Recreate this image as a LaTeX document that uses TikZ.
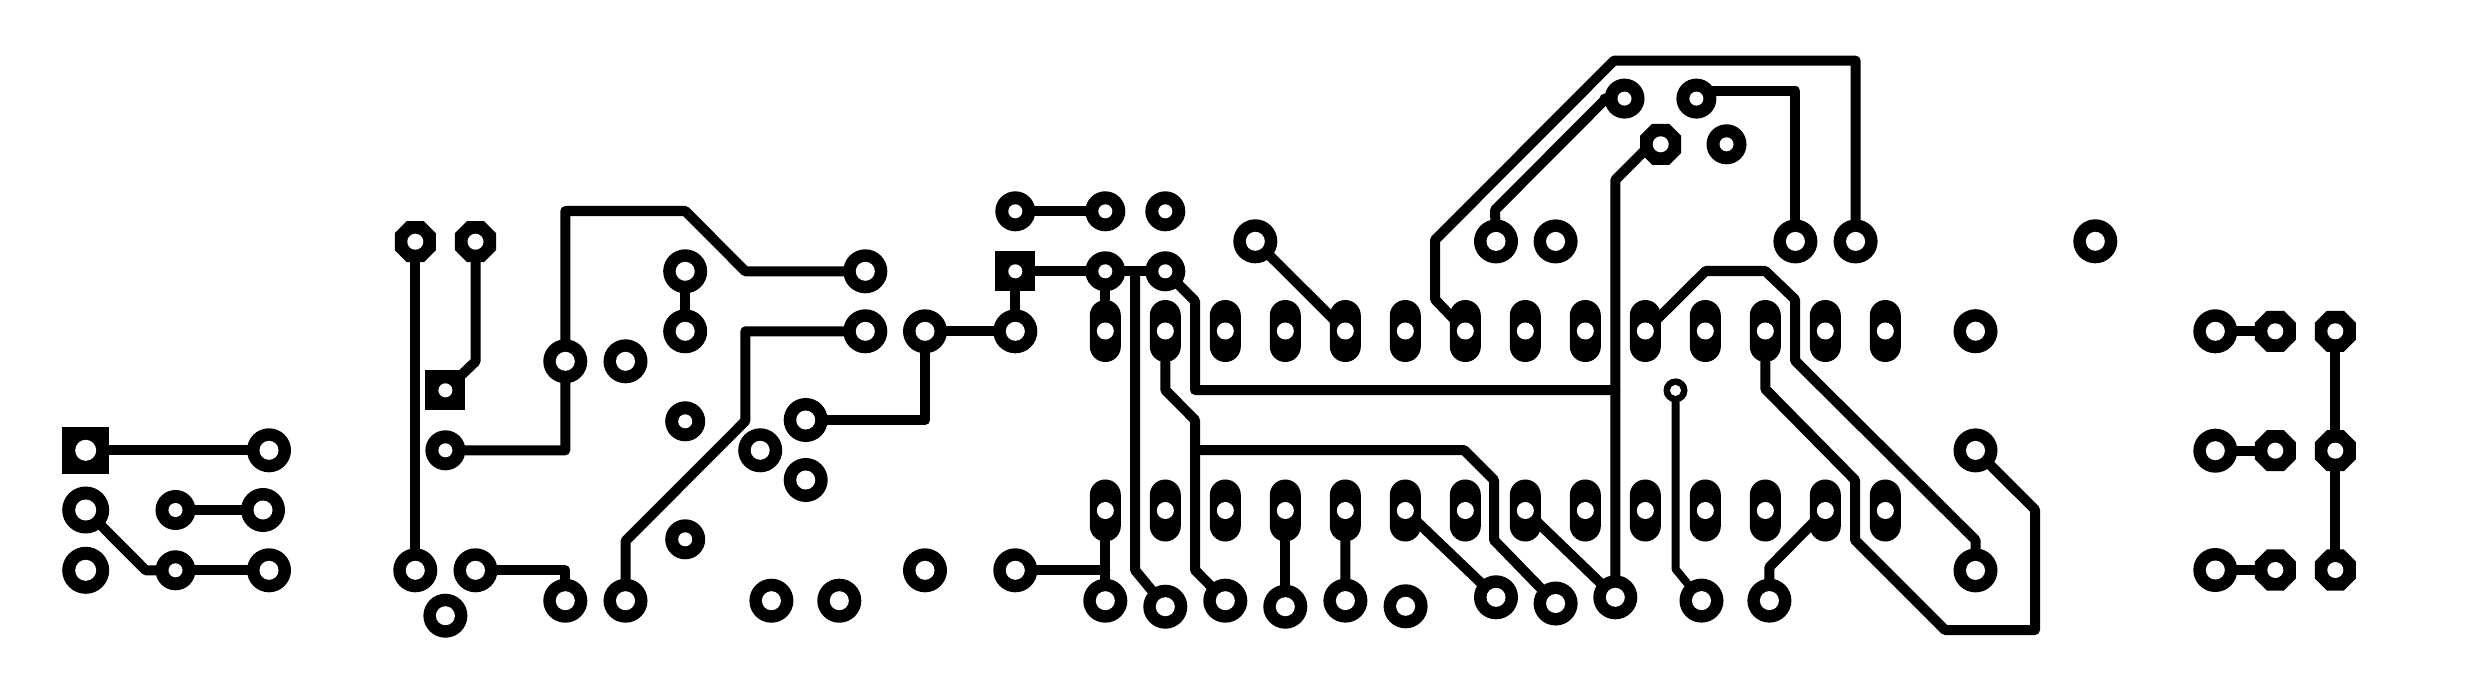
\documentclass[tikz,border=0pt]{standalone}
\usepackage{amsmath,amssymb}
\usetikzlibrary{shapes.geometric,backgrounds}

\tikzset{
  padhole/.style={path picture={\fill[white] (path picture bounding box.center) circle (#1);}},
  padbase/.style={fill=black,inner sep=0pt,outer sep=0pt},
  padbig/.style={padbase,circle,minimum size=.44cm,padhole=.095cm},
  padwide/.style={padbase,circle,minimum size=.47cm,padhole=.105cm},
  padsmall/.style={padbase,circle,minimum size=.40cm,padhole=.07cm},
  padsq/.style={padbase,rectangle,minimum size=.40cm,padhole=.07cm},
  padsqwide/.style={padbase,rectangle,minimum size=.47cm,padhole=.105cm},
  padoct/.style={padbase,regular polygon,regular polygon sides=8,minimum size=.444cm,padhole=.08cm},
  padoval/.style={padbase,rectangle,rounded corners=.155cm,minimum width=.31cm,minimum height=.62cm,padhole=.085cm},
  padvia/.style={padbase,circle,minimum size=.24cm,padhole=.055cm},
  track/.style={line width=.1cm,line join=round,line cap=round},
  trackthin/.style={line width=.08cm,line join=round,line cap=round}
}

\begin{document}
\begin{tikzpicture}[x=.01cm,y=-.01cm]
  \useasboundingbox (0,0) rectangle (2481,700);
  % Left connector block
  \node[padsqwide] (L1) at (85.7,450.3) {};
  \foreach \nm/\px/\py in {L2/85.7/510, L3/85.7/570.3}
    \node[padwide] (\nm) at (\px,\py) {};
  \foreach \nm/\px/\py in {L4/269/450.3, L5/263/510, L6/269/570.3}
    \node[padbig] (\nm) at (\px,\py) {};
  \foreach \nm/\px/\py in {L7/175.5/510, L8/175.5/570.3}
    \node[padsmall] (\nm) at (\px,\py) {};
  % Middle block, loose pads
  \node[padoct] (M1) at (415.3,241.7) {};
  \node[padoct] (M2) at (475.5,241.7) {};
  \node[padsq] (M3) at (445.4,390.3) {};
  \node[padsq] (M4) at (1015.3,271.3) {};
  \foreach \nm/\px/\py in {M5/445.4/450.3, M6/685.2/421.3, M7/685.2/539.3,
      M8/1015.3/211.3, M9/1105.3/211.3, M10/1165.3/211.3, M11/1105.3/271.3, M12/1165.3/271.3}
    \node[padsmall] (\nm) at (\px,\py) {};
  \foreach \nm/\px/\py in {B1/415.3/570.3, B2/475.5/570.3, B3/445.4/615.7, B4/565.3/361.3,
      B5/625.5/361.3, B6/685.2/271.3, B7/685.2/331.3, B8/760.2/450.3, B9/805.7/420,
      B10/805.7/480, B11/565.3/600.7, B12/625.5/600.7, B13/771.4/600.7, B14/839.3/600.7,
      B15/865.3/271.3, B16/865.3/331.3, B17/925/331.3, B18/1015.3/331.3, B19/925/570.3,
      B20/1015.3/570.3, B21/1105.3/600.7, B22/1165.3/606.7, B23/1225.3/600.7, B24/1285.3/606.7,
      B25/1255.3/241.3, B26/1345.4/600.6, B27/1405.6/606.3, B28/1496/597.3, B29/1555.6/603.5,
      B30/1615.3/597.3, B31/1701.5/600.6, B32/1769.4/600.6, B33/1975.5/570.4, B34/1975.5/450.4,
      B35/1975.5/331.2, B36/1496/241.4, B37/1555.6/241.4, B38/1795.4/241.4, B39/1855.6/241.4,
      B40/2095.3/241.3}
    \node[padbig] (\nm) at (\px,\py) {};
  % IC rows, 14 pins each
  \foreach \i in {1,...,14} {
    \node[padoval] (T\i) at (1045.3+60*\i,331) {};
    \node[padoval] (D\i) at (1045.3+60*\i,510.5) {};
  }
  % Top pads above the IC
  \node[padsmall] (E1) at (1624.5,98.6) {};
  \node[padsmall] (E2) at (1696.4,98.6) {};
  \node[padoct] (E3) at (1660.7,144.3) {};
  \node[padsmall] (E4) at (1726.5,144.3) {};
  \node[padvia] (E5) at (1675.5,390.4) {};
  % Right connector block
  \foreach \nm/\py in {1/331.3, 2/450.7, 3/570} {
    \node[padbig] (R\nm) at (2215.3,\py) {};
    \node[padoct] (S\nm) at (2275.3,\py) {};
    \node[padoct] (Q\nm) at (2335.3,\py) {};
  }
  % Copper tracks go under the pads
  \begin{scope}[on background layer]
    \coordinate (railA) at (1615.3,390);
    \coordinate (railB) at (1195,450);
    \coordinate (railC) at (1135,271.3);
    \begin{scope}[track]
    \draw (L1) -- (L4);
    \draw (L7) -- (L5);
    \draw (L8) -- (L6);
    \draw (L2.center) -- (145.7,570.3) -- (L8);
    \draw (M1) -- (B1);
    \draw (M2) -- (475.5,361.5) -- (M3.center);
    \draw (M5) -- (565.3,450.3) -- (565.3,211) -- (685.3,211) -- (745.3,271.3) -- (B15);
    \draw (B6) -- (B7);
    \draw (B11) -- (565.3,570.3) -- (B2);
    \draw (B12) -- (625.5,541) -- (745.3,421) -- (745.3,331.3) -- (B16);
    \draw (B17) -- (B18);
    \draw (B17) -- (925,420) -- (B9);
    \draw (M4) -- (B18);
    \draw (M4) -- (M12);
    \draw (M11) -- (T1);
    \draw (M8) -- (M9);
    \draw (railC) -- (1135,570) -- (B22.center);
    \draw (M12.center) -- (1195,301) -- (1195,390) -- (railA);
    \draw (T2) -- (1165.3,390) -- (1195,420) -- (1195,570) -- (B23.center);
    \draw (railB) -- (1464,450) -- (1494,480) -- (1494,540) -- (B29.center);
    \draw (B20) -- (1105.3,570.3);
    \draw (D1) -- (B21);
    \draw (D4) -- (B24);
    \draw (D5) -- (B26);
    \draw (B25.center) -- (T5.center);
    \draw (T7.center) -- (1435,299.4) -- (1435,240) -- (1614,60.6) -- (1855.6,60.6) -- (B39);
    \draw (B36) -- (1495,210) -- (1606,98.6) -- (E1);
    \draw (E2.center) -- (1696.4,91) -- (1795.4,91) -- (B38);
    \draw (E3.center) -- (1651,144.3) -- (1615.3,180) -- (B30);
    \draw (T10.center) -- (1705.6,271) -- (1765.3,271) -- (1795,299.4) -- (1795,360.6)
      -- (1975.5,540) -- (B33);
    \draw (T12) -- (1765.3,389) -- (1855,480) -- (1855,540) -- (1945,630) -- (2035,630)
      -- (2035,509.6) -- (B34.center);
    \draw (D6.center) -- (B28.center);
    \draw (D8.center) -- (B30.center);
    \draw (D13.center) -- (1769.4,567) -- (B32);
    \draw[trackthin] (E5) -- (1675.5,569) -- (B31.center);
    \foreach \nm in {1,2,3}
      \draw (R\nm) -- (S\nm);
    \draw (Q1) -- (Q2);
    \draw (Q2) -- (Q3);
    \end{scope}
  \end{scope}
\end{tikzpicture}
\end{document}
